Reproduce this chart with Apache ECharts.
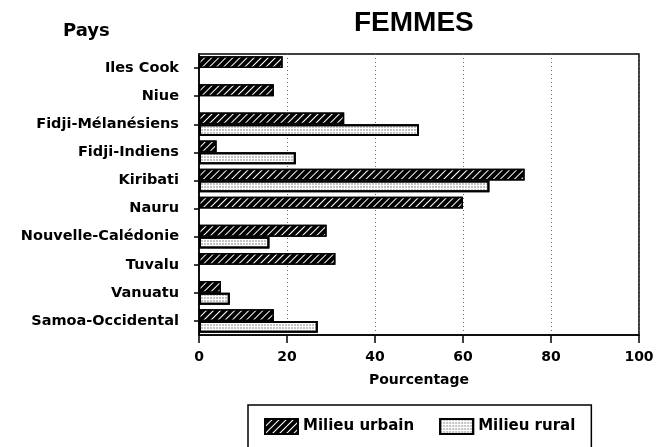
<!DOCTYPE html>
<html>
<head>
<meta charset="utf-8">
<script src="https://cdn.jsdelivr.net/npm/echarts@6/dist/echarts.min.js"></script>
<style>html,body{margin:0;padding:0;background:#fff}#c{width:667px;height:447px}</style>
</head>
<body>
<div id="c"></div>
<script>
var categories = ['Iles Cook','Niue','Fidji-Mélanésiens','Fidji-Indiens','Kiribati','Nauru','Nouvelle-Calédonie','Tuvalu','Vanuatu','Samoa-Occidental'];
var urbain = [19, 17, 33, 4, 74, 60, 29, 31, 5, 17];
var rural = [null, null, 50, 22, 66, null, 16, null, 7, 27];
var xTicks = [0, 20, 40, 60, 80, 100];
var seriesNames = ['Milieu urbain', 'Milieu rural'];

var F = '"Liberation Sans", Arial, sans-serif';
var D = '"DejaVu Sans", sans-serif';
var chart = echarts.init(document.getElementById('c'), null, {renderer: 'canvas'});
chart.setOption({
  animation: false,
  backgroundColor: '#fff',
  title: [
    {text: 'FEMMES', left: 349, top: 4,
     textStyle: {fontFamily: F, fontSize: 28, fontWeight: 'bold', color: '#000'}},
    {text: 'Pays', left: 58, top: 17,
     textStyle: {fontFamily: D, fontSize: 18, fontWeight: 'bold', color: '#000'}}
  ],
  legend: {
    data: seriesNames,
    left: 248, top: 405,
    padding: [13, 16, 20, 16],
    borderColor: '#000', borderWidth: 1.5,
    icon: 'rect',
    itemWidth: 33, itemHeight: 15, itemGap: 25,
    textStyle: {fontFamily: D, fontSize: 15, fontWeight: 'bold', color: '#000'}
  },
  grid: {left: 199, right: 28, top: 54, bottom: 112, show: true, borderColor: '#000', borderWidth: 1.5},
  xAxis: {
    type: 'value', min: 0, max: 100, interval: 20,
    name: 'Pourcentage', nameLocation: 'middle', nameGap: 38,
    nameTextStyle: {fontFamily: D, fontSize: 14, fontWeight: 'bold', color: '#000'},
    axisLine: {show: true, lineStyle: {color: '#000', width: 1.5}},
    axisTick: {show: true, length: 8, lineStyle: {color: '#000', width: 1.5}},
    axisLabel: {fontFamily: D, fontSize: 14, fontWeight: 'bold', color: '#000', margin: 15,
      formatter: function (v) { return xTicks.indexOf(v) >= 0 ? String(v) : ''; }},
    splitLine: {show: true, lineStyle: {color: '#666', type: [1, 3], width: 1}}
  },
  yAxis: {
    type: 'category', data: categories, inverse: true,
    axisLine: {show: true, lineStyle: {color: '#000', width: 1.5}},
    axisTick: {show: true, alignWithLabel: true, length: 5, lineStyle: {color: '#000', width: 1.5}},
    axisLabel: {fontFamily: D, fontSize: 14.5, fontWeight: 'bold', color: '#000', margin: 20}
  },
  series: [
    {
      name: seriesNames[0], type: 'bar', data: urbain,
      barGap: '0%', barCategoryGap: '16%',
      itemStyle: {
        color: '#000', borderColor: '#000', borderWidth: 1.5,
        decal: {symbol: 'rect', symbolSize: 1, dashArrayX: [1, 0], dashArrayY: [1, 4], rotation: -Math.PI / 4, color: '#fff'}
      }
    },
    {
      name: seriesNames[1], type: 'bar', data: rural,
      itemStyle: {
        color: '#fff', borderColor: '#000', borderWidth: 2,
        decal: {symbol: 'circle', symbolSize: 0.8, dashArrayX: [[2, 1]], dashArrayY: [2, 1], color: '#777'}
      }
    }
  ]
});
</script>
</body>
</html>
